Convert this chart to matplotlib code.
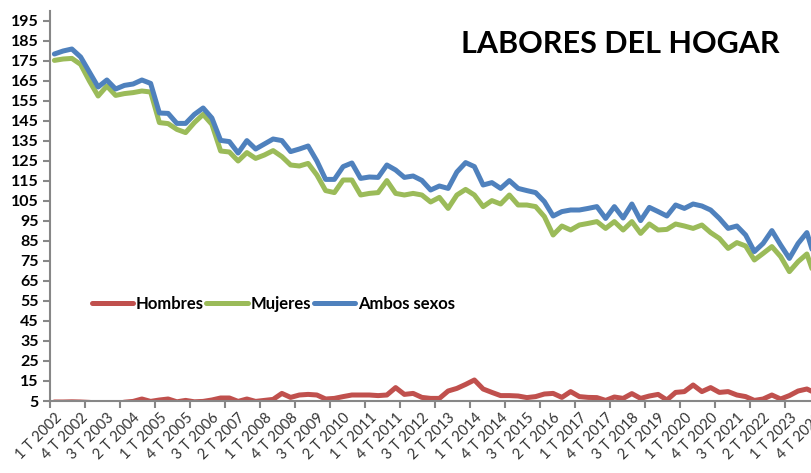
import numpy as np
import matplotlib.pyplot as plt

plt.rcParams['font.family'] = ['Lato', 'DejaVu Sans']

# trimestres 1 T 2002 ... 4 T 2023
trimestres = [f"{q} T {a}" for a in range(2002, 2024) for q in range(1, 5)]

hombres = [4.5, 4.5, 4.6, 4.5, 4.3, 4.0, 3.5, 3.5, 4.4, 4.8,
           6.0, 4.8, 5.5, 6.0, 4.6, 5.3, 4.6, 4.8, 5.5, 6.5,
           6.5, 4.8, 6.0, 4.8, 5.3, 5.8, 8.8, 6.8, 8.0, 8.3,
           8.0, 6.0, 6.3, 7.2, 8.0, 8.0, 8.0, 7.7, 8.0, 11.7,
           8.3, 8.8, 6.8, 6.3, 6.3, 10.0, 11.3, 13.3, 15.5, 11.0,
           9.3, 7.7, 7.7, 7.5, 6.7, 7.2, 8.5, 8.8, 6.8, 9.7,
           7.2, 6.8, 6.7, 5.3, 7.0, 6.3, 8.7, 6.3, 7.5, 8.3,
           5.5, 9.3, 9.7, 13.0, 9.7, 11.7, 9.3, 9.7, 8.0, 7.2,
           5.3, 6.0, 8.0, 6.0, 7.7, 10.0, 11.0, 9.0]

mujeres = [175.3, 176.0, 176.3, 173.3, 165.0, 157.5, 162.5, 157.8, 158.7, 159.2,
           160.0, 159.5, 144.2, 143.7, 140.8, 139.2, 144.2, 148.3, 143.3, 130.0,
           129.5, 125.0, 129.2, 126.3, 128.0, 130.2, 127.2, 123.0, 122.5, 123.8,
           118.0, 110.2, 109.2, 115.5, 115.5, 108.0, 108.8, 109.2, 115.2, 108.8,
           108.0, 108.8, 108.0, 104.5, 106.8, 101.3, 108.0, 110.8, 108.0, 102.2,
           105.2, 103.5, 108.0, 103.0, 103.0, 102.2, 97.2, 88.0, 92.5, 90.5,
           93.0, 93.8, 94.7, 91.3, 94.7, 90.5, 94.7, 88.8, 93.5, 90.5,
           90.8, 93.5, 92.5, 91.3, 93.0, 89.2, 86.3, 81.3, 84.2, 82.5,
           75.5, 78.8, 82.2, 77.2, 69.7, 74.7, 78.5, 66.0]

ambos = [178.5, 180.0, 181.0, 177.0, 169.5, 162.0, 165.5, 161.0, 162.8, 163.5,
         165.5, 163.8, 149.0, 148.8, 143.8, 143.8, 148.3, 151.5, 146.5, 135.3,
         134.7, 129.0, 135.2, 131.0, 133.5, 136.0, 135.2, 129.7, 131.0, 132.5,
         125.0, 115.8, 115.8, 122.2, 124.0, 116.3, 117.0, 116.8, 123.0, 120.5,
         116.8, 117.5, 115.3, 110.5, 112.5, 111.3, 119.5, 124.2, 122.2, 113.0,
         114.2, 111.3, 115.2, 111.3, 110.2, 109.2, 104.7, 97.5, 99.7, 100.5,
         100.5, 101.3, 102.2, 96.3, 102.2, 96.5, 103.5, 95.2, 101.8, 99.7,
         97.5, 103.0, 101.3, 103.5, 102.5, 100.5, 96.3, 91.3, 92.5, 88.0,
         79.7, 83.8, 90.2, 83.0, 76.3, 83.8, 89.2, 75.0]

x = np.arange(len(trimestres))

fig = plt.figure(figsize=(8.12, 4.73), dpi=100)
# el eje se sale un poco por la derecha, como en la imagen original
ax = fig.add_axes([50 / 812, 72 / 473, 770 / 812, 390 / 473])

estilo = dict(linewidth=3.6, solid_joinstyle='round', solid_capstyle='round')
ax.plot(x, hombres, color='#C0504D', label='Hombres', **estilo)
ax.plot(x, mujeres, color='#9BBB59', label='Mujeres', **estilo)
ax.plot(x, ambos, color='#4F81BD', label='Ambos sexos', **estilo)

ax.set_xlim(-0.5, len(trimestres) - 0.5)
ax.set_ylim(5, 200)
ax.set_yticks(range(5, 200, 10))
for lab in ax.get_yticklabels():
    lab.set_fontweight('bold')
    lab.set_fontsize(11.5)

ax.set_xticks(x[::3])
ax.set_xticklabels(trimestres[::3], rotation=45, ha='right', va='top',
                   rotation_mode='anchor', fontsize=10.5, color='#333333')
ax.set_xticks(np.arange(-0.5, len(trimestres), 4), minor=True)
ax.tick_params(axis='x', which='major', length=0, pad=7)
ax.tick_params(axis='x', which='minor', length=5, width=1.5, color='#878787')
ax.tick_params(axis='y', length=5, width=1.5, color='#878787', pad=3)

for lado in ['top', 'right']:
    ax.spines[lado].set_visible(False)
for lado in ['left', 'bottom']:
    ax.spines[lado].set_color('#878787')
    ax.spines[lado].set_linewidth(1.5)

ax.legend(loc='center', bbox_to_anchor=(0.29, 0.249), ncol=3, frameon=False,
          prop={'weight': 'bold', 'size': 12}, handlelength=2.5,
          handletextpad=0.15, columnspacing=0.15)

fig.text(780 / 812, 1 - 44 / 473, 'LABORES DEL HOGAR', ha='right', va='center',
         fontsize=22, fontweight='bold')

fig.savefig('out.png', dpi=100)
